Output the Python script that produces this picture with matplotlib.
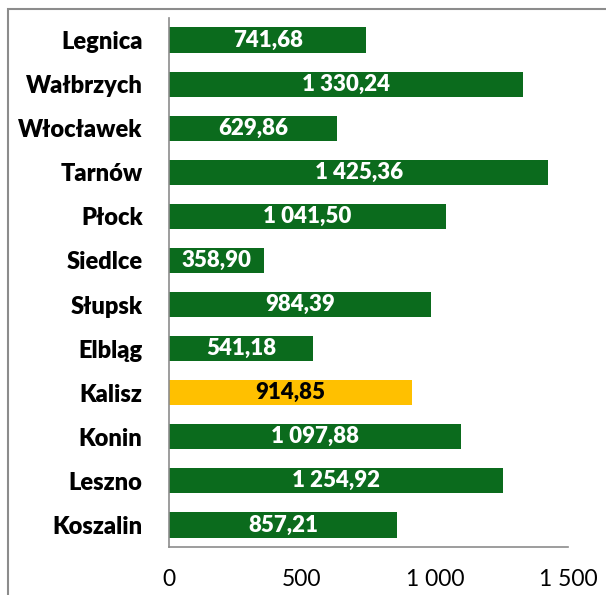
import matplotlib.pyplot as plt
from matplotlib.patches import Rectangle

cities = ["Legnica", "Wałbrzych", "Włocławek", "Tarnów", "Płock", "Siedlce",
          "Słupsk", "Elbląg", "Kalisz", "Konin", "Leszno", "Koszalin"]
values = [741.68, 1330.24, 629.86, 1425.36, 1041.50, 358.90,
          984.39, 541.18, 914.85, 1097.88, 1254.92, 857.21]
highlight = "Kalisz"
xticks = [0, 500, 1000, 1500]

green = "#0b6b1d"
gold = "#ffc000"

plt.rcParams['font.family'] = ['Lato', 'DejaVu Sans']

def fmt(v, dec=2):
    s = f"{v:,.{dec}f}".replace(",", " ").replace(".", ",")
    return s

fig = plt.figure(figsize=(6.06, 5.95), dpi=100)
ax = fig.add_axes([169/606, 48/595, 399/606, 529/595])

pos = list(range(len(cities)))
colors = [gold if c == highlight else green for c in cities]
bars = ax.barh(pos, values, height=0.57, color=colors)

for p, v, c in zip(pos, values, cities):
    ax.text(v / 2, p, fmt(v), ha='center', va='center', fontsize=16,
            fontweight='heavy', color='black' if c == highlight else 'white')

ax.set_ylim(len(cities) - 0.5, -0.5)
ax.set_xlim(0, 1500)
ax.set_yticks(pos)
ax.set_yticklabels(cities, fontsize=17, fontweight='heavy')
ax.set_xticks(xticks)
ax.set_xticklabels([fmt(x, 0) for x in xticks], fontsize=16.5)
ax.tick_params(axis='y', length=0, pad=19)
ax.tick_params(axis='x', length=0, pad=16)

for s in ['top', 'right']:
    ax.spines[s].set_visible(False)
for s in ['left', 'bottom']:
    ax.spines[s].set_color('#8c8c8c')
    ax.spines[s].set_linewidth(1.2)

# outer chart border (extends past the image on right/bottom)
fig.patches.append(Rectangle((8/606, -0.1), 1.2, 0.1 + (595-9)/595,
                             transform=fig.transFigure, fill=False,
                             edgecolor='#8c8c8c', linewidth=1.5))

fig.savefig("out.png", dpi=100)
